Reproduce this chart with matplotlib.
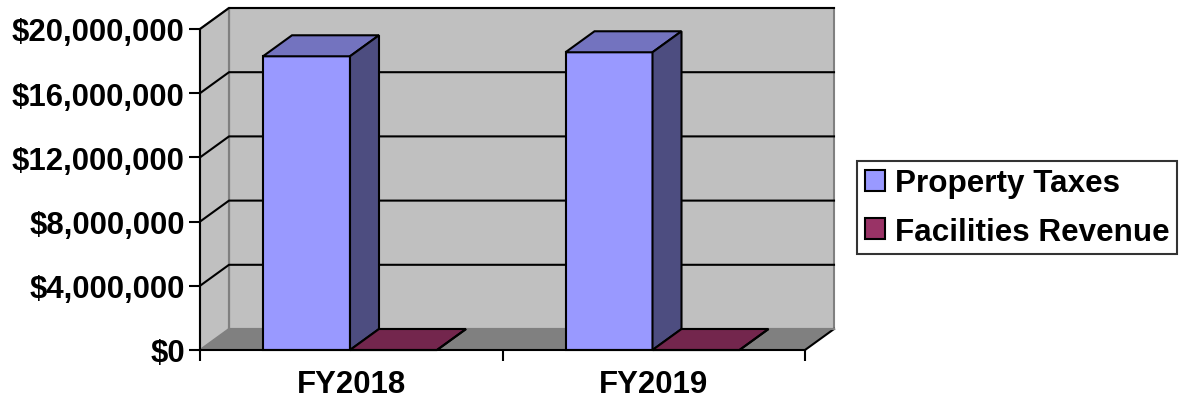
"""Excel-style 3D clustered column chart: revenue by fiscal year"""
import matplotlib
matplotlib.use("Agg")
import matplotlib.pyplot as plt
from matplotlib.patches import Polygon, Patch
from matplotlib.ticker import FuncFormatter

# data
categories = ["FY2018", "FY2019"]
series_names = ["Property Taxes", "Facilities Revenue"]
property_taxes = [18300000, 18550000]
facilities_revenue = [0, 0]
y_max = 20000000
y_step = 4000000

# colours (front, top, side)
front_colors = ["#9999FF", "#993366"]
top_colors = ["#7373BF", "#73264D"]
side_colors = ["#4D4D80", "#4D1A33"]

plt.rcParams["font.family"] = ["Liberation Sans", "DejaVu Sans"]
plt.rcParams["font.weight"] = "bold"

fig = plt.figure(figsize=(11.86, 4.02), dpi=100)
W, H = 1186, 402
# axes = front plane of the 3D box
ax = fig.add_axes([200 / W, (H - 351) / H, 605 / W, 321 / H])
n = len(categories)
ax.set_xlim(0, n)
ax.set_ylim(0, y_max)

# depth offset in data units (about 29 px right, 21 px up)
dx = 29 / 302.5
dy = 21 / 321 * y_max

def poly(pts, fc, ec, lw, z):
    p = Polygon(pts, closed=True, facecolor=fc, edgecolor=ec, linewidth=lw,
                zorder=z, clip_on=False, joinstyle="miter")
    ax.add_patch(p)

# walls and floor
poly([(dx, dy), (n + dx, dy), (n + dx, y_max + dy), (dx, y_max + dy)],
     "#C0C0C0", "#808080", 1.5, 1)
poly([(0, 0), (dx, dy), (dx, y_max + dy), (0, y_max)],
     "#C0C0C0", "#808080", 1.5, 1)
poly([(0, 0), (n, 0), (n + dx, dy), (dx, dy)], "#808080", "none", 0, 1)
ax.plot([n, n + dx], [0, dy], color="black", lw=1.5, zorder=2, clip_on=False)
ax.plot([dx, n + dx], [dy, dy], color="#808080", lw=1.5, zorder=2, clip_on=False)
ax.plot([dx, dx], [dy, y_max + dy], color="#808080", lw=1.5, zorder=2, clip_on=False)

# gridlines on back and side wall
for v in range(y_step, y_max + 1, y_step):
    ax.plot([0, dx, n + dx], [v, v + dy, v + dy], color="black", lw=1.5,
            zorder=2, clip_on=False)

# bars
gap = 63 / 302.5
bw = 87 / 302.5
all_series = [property_taxes, facilities_revenue]
for i in range(n):
    for s, vals in enumerate(all_series):
        x0 = i + gap + s * bw
        x1 = x0 + bw
        v = vals[i]
        z = 3 + i * 2 + s * 0.1
        poly([(x0, 0), (x1, 0), (x1, v), (x0, v)], front_colors[s], "black", 1.5, z)
        poly([(x0, v), (x1, v), (x1 + dx, v + dy), (x0 + dx, v + dy)],
             top_colors[s], "black", 1.5, z)
        poly([(x1, 0), (x1 + dx, dy), (x1 + dx, v + dy), (x1, v)],
             side_colors[s], "black", 1.5, z)

# axes styling
for side in ["top", "right"]:
    ax.spines[side].set_visible(False)
for side in ["left", "bottom"]:
    ax.spines[side].set_linewidth(1.5)
    ax.spines[side].set_zorder(20)
ax.set_facecolor("none")

ax.set_yticks(range(0, y_max + 1, y_step))
ax.yaxis.set_major_formatter(FuncFormatter(lambda v, p: f"${v:,.0f}"))
ax.tick_params(axis="y", direction="out", length=8, width=1.5, pad=3,
               labelsize=22.4)
ax.set_xticks(range(n + 1))
ax.set_xticklabels([])
ax.set_xticks([i + 0.5 for i in range(n)], minor=True)
ax.set_xticklabels(categories, minor=True, fontsize=22.4, fontweight="bold")
ax.tick_params(axis="x", which="major", direction="out", length=8, width=1.5)
ax.tick_params(axis="x", which="minor", length=0, pad=14)

# legend
handles = [Patch(facecolor=front_colors[s], edgecolor="black", linewidth=1.5,
                 label=series_names[s]) for s in range(len(series_names))]
leg = fig.legend(handles=handles, loc="center left",
                 bbox_to_anchor=(857 / W, 1 - 208.5 / H),
                 prop={"weight": "bold", "size": 22.6},
                 frameon=True, fancybox=False, edgecolor="black",
                 handlelength=0.65, handleheight=0.65, handletextpad=0.3,
                 borderpad=0.25, labelspacing=0.58, borderaxespad=0)
leg.get_frame().set_linewidth(1.5)

fig.savefig("out.png", dpi=100)
